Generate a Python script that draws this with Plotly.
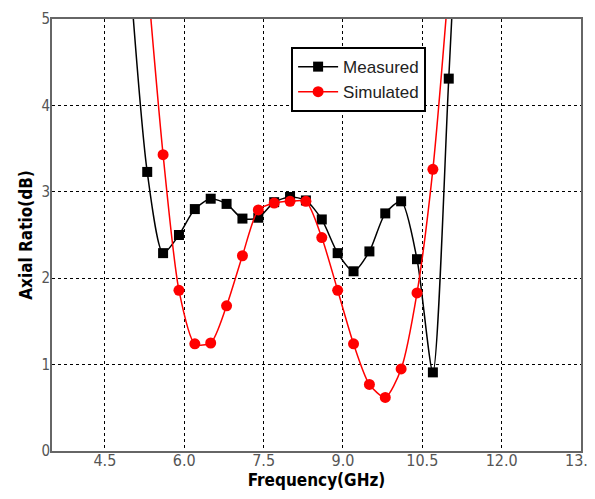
import plotly.graph_objects as go

# Measured axial ratio (dB) vs frequency (GHz)
meas_freq = [5.0, 5.3, 5.6, 5.9, 6.2, 6.5, 6.8, 7.1, 7.4, 7.7, 8.0, 8.3, 8.6, 8.9,
             9.2, 9.5, 9.8, 10.1, 10.4, 10.7, 11.0, 11.3]
meas_ar = [5.3, 3.23, 2.29, 2.50, 2.80, 2.92, 2.86, 2.69, 2.70, 2.88, 2.94, 2.90,
           2.68, 2.29, 2.08, 2.31, 2.75, 2.89, 2.22, 0.91, 4.31, 8.0]

# Simulated axial ratio (dB) vs frequency (GHz)
sim_freq = [5.3, 5.6, 5.9, 6.2, 6.5, 6.8, 7.1, 7.4, 7.7, 8.0, 8.3, 8.6, 8.9, 9.2,
            9.5, 9.8, 10.1, 10.4, 10.7, 11.0]
sim_ar = [5.5, 3.43, 1.86, 1.24, 1.25, 1.68, 2.26, 2.79, 2.87, 2.89, 2.89, 2.47,
          1.86, 1.24, 0.77, 0.62, 0.95, 1.83, 3.26, 5.4]

x_ticks = [4.5, 6.0, 7.5, 9.0, 10.5, 12.0, 13.5]
y_ticks = [0, 1, 2, 3, 4, 5]

FONT = "Liberation Sans Narrow, DejaVu Sans Condensed, Liberation Sans"

fig = go.Figure()
fig.add_trace(go.Scatter(
    x=meas_freq, y=meas_ar, name="Measured", mode="lines+markers",
    line=dict(color="black", width=1.5, shape="spline", smoothing=0.7),
    marker=dict(symbol="square", size=10, color="black"),
    cliponaxis=True,
))
fig.add_trace(go.Scatter(
    x=sim_freq, y=sim_ar, name="Simulated", mode="lines+markers",
    line=dict(color="red", width=1.5, shape="spline", smoothing=0.7),
    marker=dict(symbol="circle", size=11, color="red"),
    cliponaxis=True,
))

axis_common = dict(
    showline=True, linecolor="#666666", linewidth=2, mirror=True,
    showgrid=True, gridcolor="black", gridwidth=1.3, griddash="dot",
    zeroline=False, ticks="", automargin=False, ticklabeloverflow="allow",
)

fig.update_layout(
    width=595, height=483,
    margin=dict(l=44, r=22, t=11, b=40),
    plot_bgcolor="white", paper_bgcolor="white",
    showlegend=True,
    legend=dict(
        x=0.452, y=0.935, xanchor="left", yanchor="top",
        bgcolor="white", bordercolor="black", borderwidth=2,
        font=dict(family="Liberation Sans", size=17, color="#222222"),
        tracegroupgap=0, itemwidth=40,
    ),
    xaxis=dict(
        range=[3.5, 13.5], tickvals=x_ticks, tickformat=".1f",
        ticklabelstandoff=-6,
        tickfont=dict(family=FONT, size=16, color="#555555"),
        title=dict(text="<b>Frequency(GHz)</b>", standoff=2,
                   font=dict(family=FONT, size=17, color="black")),
        **axis_common,
    ),
    yaxis=dict(
        range=[0, 5], tickvals=y_ticks,
        ticklabelstandoff=-3,
        tickfont=dict(family=FONT, size=15, color="#555555"),
        title=dict(text="<b>Axial Ratio(dB)</b>", standoff=4,
                   font=dict(family=FONT, size=17, color="black")),
        **axis_common,
    ),
)

fig.write_html("out.html")
